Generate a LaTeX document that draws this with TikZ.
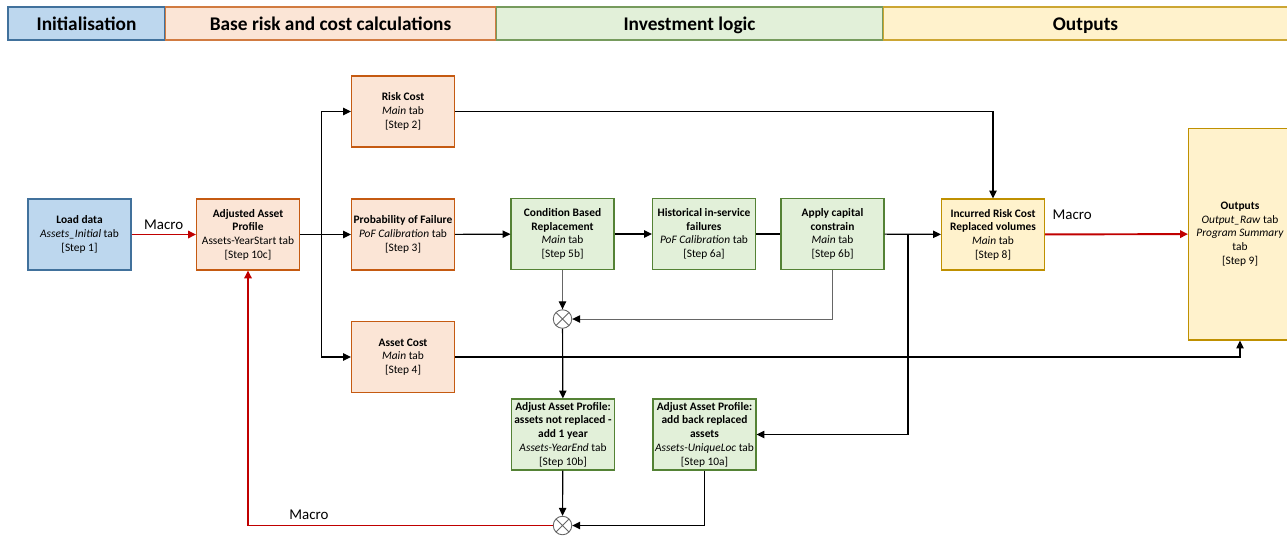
\documentclass[tikz,border=0pt]{standalone}
\usepackage{fontspec}
\setmainfont{Carlito}
\usetikzlibrary{arrows.meta}

\definecolor{initfill}{HTML}{BDD7EE}
\definecolor{initdraw}{HTML}{41719C}
\definecolor{basefill}{HTML}{FBE5D6}
\definecolor{basedraw}{HTML}{C55A11}
\definecolor{investfill}{HTML}{E2F0D9}
\definecolor{investdraw}{HTML}{548235}
\definecolor{outfill}{HTML}{FFF2CC}
\definecolor{outdraw}{HTML}{BF9000}
\definecolor{macrored}{HTML}{C00000}

\tikzset{
  rect/.style={draw, line width=0.6pt, minimum width=2.06cm, minimum height=1.42cm,
    inner sep=1pt, align=center, font=\fontsize{6.5}{7.8}\selectfont},
  initrect/.style={rect, fill=initfill, draw=initdraw},
  baserect/.style={rect, fill=basefill, draw=basedraw},
  investrect/.style={rect, fill=investfill, draw=investdraw},
  outrect/.style={rect, fill=outfill, draw=outdraw},
  head/.style={draw, line width=0.6pt, minimum height=0.66cm, inner sep=0pt,
    text height=9pt, text depth=1.4pt, font=\fontsize{11}{13}\selectfont\bfseries},
  wire/.style={line width=0.65pt, black},
  flow/.style={wire, -{Triangle[length=4.5pt, width=4.2pt]}},
  thinflow/.style={line width=0.5pt, black!60, -{Triangle[length=4.5pt, width=4.2pt, color=black]}},
  macroflow/.style={line width=1.1pt, macrored, -{Triangle[length=4.5pt, width=4.2pt]}},
  macrolabel/.style={black, inner sep=1pt, font=\fontsize{8.5}{10}\selectfont},
  mult/.style={circle, draw=black!60, fill=white, line width=0.5pt, minimum size=0.37cm,
    inner sep=0pt, path picture={
      \draw[black!60, line width=0.5pt] (path picture bounding box.north west) -- (path picture bounding box.south east)
        (path picture bounding box.north east) -- (path picture bounding box.south west);}}
}

\begin{document}
\begin{tikzpicture}[x=0.02cm, y=-0.02cm]
  \useasboundingbox (0,0) rectangle (1287,535);

  \node[head, fill=initfill, draw=initdraw, minimum width=3.14cm] at (86.5,23.5) (head_init) {Initialisation};
  \node[head, fill=basefill, draw=basedraw!80, minimum width=6.62cm] at (330.5,23.5) (head_base) {Base risk and cost calculations};
  \node[head, fill=investfill, draw=investdraw!80, minimum width=7.74cm] at (689.5,23.5) (head_invest) {Investment logic};
  \node[head, fill=outfill, draw=outdraw!80, minimum width=8.1cm] at (1085.5,23.5) (head_out) {Outputs};

  \node[initrect] at (79.5,234.5) (load) {\textbf{Load data}\\ \textit{Assets\_Initial} tab\\ {[Step 1]}};
  \node[baserect] at (248,234.5) (adjusted) {\textbf{Adjusted Asset}\\ \textbf{Profile}\\ Assets-YearStart tab\\ {[Step 10c]}};
  \node[baserect] at (403,111.5) (risk) {\textbf{Risk Cost}\\ \textit{Main} tab\\ {[Step 2]}};
  \node[baserect] at (403,234.5) (pof) {\textbf{Probability of Failure}\\ \textit{PoF Calibration} tab\\ {[Step 3]}};
  \node[baserect] at (403,357) (assetcost) {\textbf{Asset Cost}\\ \textit{Main} tab\\ {[Step 4]}};

  \node[investrect] at (562.5,234) (cbr) {\textbf{Condition Based}\\ \textbf{Replacement}\\ \textit{Main} tab\\ {[Step 5b]}};
  \node[investrect] at (704,234) (historical) {\textbf{Historical in-service}\\ \textbf{failures}\\ \textit{PoF Calibration} tab\\ {[Step 6a]}};
  \node[investrect] at (832.5,234) (capital) {\textbf{Apply capital}\\ \textbf{constrain}\\ \textit{Main} tab\\ {[Step 6b]}};
  \node[investrect] at (563,434.5) (notreplaced) {\textbf{Adjust Asset Profile:}\\ \textbf{assets not replaced -}\\ \textbf{add 1 year}\\ \textit{Assets-YearEnd} tab\\ {[Step 10b]}};
  \node[investrect] at (704.5,434.5) (addback) {\textbf{Adjust Asset Profile:}\\ \textbf{add back replaced}\\ \textbf{assets}\\ \textit{Assets-UniqueLoc} tab\\ {[Step 10a]}};

  \node[outrect] at (993,234.5) (incurred) {\textbf{Incurred Risk Cost}\\ \textbf{Replaced volumes}\\ \textit{Main} tab\\ {[Step 8]}};
  \node[outrect, minimum height=4.24cm] at (1240,234) (outputs) {\textbf{Outputs}\\ \textit{Output\_Raw} tab\\ \textit{Program Summary}\\ tab\\ {[Step 9]}};

  \node[mult] at (562.5,319) (mult_a) {};
  \node[mult] at (562.5,525.5) (mult_b) {};

  \coordinate (split) at (321.5,234.5);
  \coordinate (branch) at (908,234);

  \path[draw, macroflow] (load) -- node[macrolabel, above=1.5pt] {Macro} (adjusted);
  \path[draw, wire] (adjusted) -- (split);
  \path[draw, flow] (split) |- (risk);
  \path[draw, flow] (split) -- (pof);
  \path[draw, flow] (split) |- (assetcost);
  \path[draw, flow] (pof) -- (cbr);
  \path[draw, flow] (cbr) -- (historical);
  \path[draw, wire] (historical) -- (capital);
  \path[draw, flow] (capital) -- (incurred);
  \path[draw, flow] (branch) |- (addback);
  \path[draw, flow] (risk) -| (incurred);
  \path[draw, flow] (assetcost) -| (outputs);
  \path[draw, macroflow] (incurred) -- node[macrolabel, above=7pt, pos=0.19] {Macro} (outputs);
  \path[draw, thinflow] (cbr) -- (mult_a);
  \path[draw, thinflow] (capital) |- (mult_a);
  \path[draw, flow] (mult_a) -- (notreplaced);
  \path[draw, flow] (notreplaced) -- (mult_b);
  \path[draw, flow] (addback) |- (mult_b);
  \path[draw, macroflow] (mult_b) -| node[macrolabel, above=2pt, pos=0.4] {Macro} (adjusted);

\end{tikzpicture}
\end{document}
